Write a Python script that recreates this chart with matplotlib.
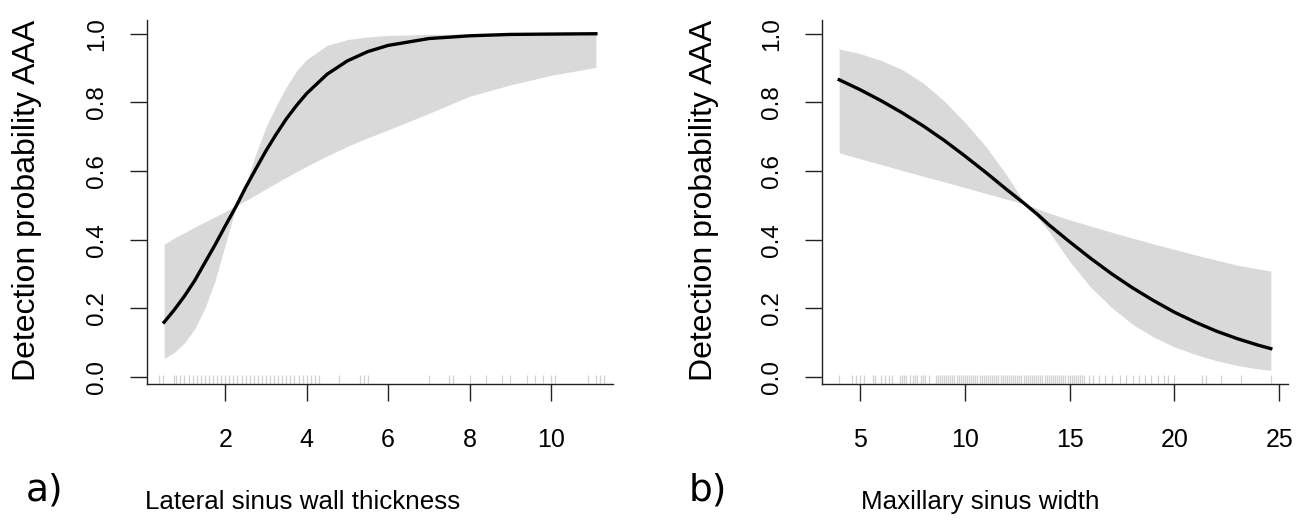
import matplotlib.pyplot as plt

plt.rcParams['font.family'] = ['Liberation Sans', 'DejaVu Sans']

# panel a: lateral sinus wall thickness
a_x = [0.5, 0.75, 1.0, 1.25, 1.5, 1.75, 2.0, 2.27, 2.5, 2.75, 3.0, 3.25, 3.5, 3.75, 4.0,
       4.5, 5.0, 5.5, 6.0, 7.0, 8.0, 9.0, 10.0, 11.1]
a_fit = [0.160, 0.196, 0.236, 0.281, 0.333, 0.385, 0.440, 0.498, 0.552, 0.606, 0.659, 0.707,
         0.752, 0.791, 0.826, 0.882, 0.921, 0.948, 0.966, 0.986, 0.994, 0.998, 0.999, 1.000]
a_up = [0.387, 0.405, 0.421, 0.437, 0.452, 0.467, 0.482, 0.500, 0.560, 0.650, 0.728, 0.790,
        0.845, 0.892, 0.925, 0.966, 0.983, 0.991, 0.995, 0.998, 0.999, 1.0, 1.0, 1.0]
a_lo = [0.054, 0.072, 0.100, 0.140, 0.200, 0.280, 0.385, 0.498, 0.514, 0.531, 0.548, 0.565,
        0.582, 0.598, 0.614, 0.644, 0.672, 0.697, 0.720, 0.768, 0.818, 0.851, 0.879, 0.902]
a_rug = [0.37, 0.47, 0.74, 0.8, 0.9, 1.0, 1.1, 1.2, 1.3, 1.4, 1.5, 1.6, 1.7, 1.8, 1.9,
         2.0, 2.1, 2.2, 2.3, 2.4, 2.5, 2.6, 2.7, 2.8, 2.9, 3.0, 3.1, 3.2, 3.3, 3.4, 3.5,
         3.6, 3.7, 3.8, 3.9, 4.0, 4.1, 4.2, 4.3, 4.8, 5.3, 5.4, 5.5, 7.0, 7.5, 7.6, 8.0,
         8.4, 8.8, 9.0, 9.4, 9.6, 9.8, 10.0, 10.1, 10.9, 11.1, 11.2, 11.3]

# panel b: maxillary sinus width
b_x = [4, 5, 6, 7, 8, 9, 10, 11, 12, 12.89, 13.5, 14, 15, 16, 17, 18, 19, 20, 21, 22, 23, 24, 24.6]
b_fit = [0.866, 0.837, 0.805, 0.770, 0.732, 0.690, 0.644, 0.596, 0.546, 0.503, 0.472, 0.444,
         0.394, 0.346, 0.301, 0.260, 0.223, 0.189, 0.160, 0.134, 0.112, 0.093, 0.083]
b_up = [0.956, 0.942, 0.922, 0.896, 0.857, 0.805, 0.742, 0.672, 0.588, 0.503, 0.490, 0.478,
        0.458, 0.440, 0.422, 0.405, 0.388, 0.372, 0.356, 0.341, 0.326, 0.315, 0.309]
b_lo = [0.653, 0.636, 0.619, 0.602, 0.585, 0.569, 0.552, 0.535, 0.518, 0.503, 0.462, 0.425,
        0.337, 0.262, 0.203, 0.154, 0.117, 0.088, 0.066, 0.048, 0.034, 0.024, 0.020]
b_rug = [4.0, 4.6, 4.8, 5.0, 5.2, 5.6, 5.7, 6.0, 6.2, 6.4, 6.5, 6.9, 7.0, 7.1, 7.2, 7.4, 7.5,
         7.6, 7.7, 7.9, 8.0, 8.1, 8.3, 8.6, 8.7, 8.8, 8.9, 9.0, 9.1, 9.2, 9.3, 9.4, 9.5, 9.6,
         9.7, 9.8, 9.9, 10.0, 10.1, 10.2, 10.3, 10.4, 10.5, 10.6, 10.7, 10.8, 10.9, 11.0, 11.1,
         11.2, 11.3, 11.4, 11.5, 11.6, 11.7, 11.8, 11.9, 12.0, 12.1, 12.2, 12.3, 12.4, 12.5,
         12.6, 12.7, 12.8, 12.9, 13.0, 13.1, 13.2, 13.3, 13.4, 13.5, 13.6, 13.7, 13.8, 13.9,
         14.0, 14.1, 14.2, 14.3, 14.4, 14.5, 14.6, 14.7, 14.8, 14.9, 15.0, 15.1, 15.2, 15.3,
         15.4, 15.5, 15.6, 15.7, 15.9, 16.1, 16.4, 16.7, 17.0, 17.4, 17.7, 18.0, 18.3, 18.6,
         18.9, 19.2, 19.5, 19.7, 20.0, 21.3, 21.5, 22.2, 23.2, 24.6]

band = '#d9d9d9'
rug_col = '#d0d0d0'

fig = plt.figure(figsize=(13.09, 5.2), dpi=100)
ax1 = fig.add_axes([147 / 1309, 1 - 384 / 520, 466 / 1309, 364 / 520])
ax2 = fig.add_axes([822 / 1309, 1 - 384 / 520, 466 / 1309, 364 / 520])

panels = [
    (ax1, a_x, a_fit, a_up, a_lo, a_rug, (0.08, 11.52), [2, 4, 6, 8, 10]),
    (ax2, b_x, b_fit, b_up, b_lo, b_rug, (3.18, 25.42), [5, 10, 15, 20, 25]),
]
for ax, x, fit, up, lo, rug, xlim, xt in panels:
    ax.fill_between(x, lo, up, color=band, lw=0)
    ax.plot(x, fit, color='black', lw=2.4)
    ax.vlines(rug, 0.003, 0.026, color=rug_col, lw=0.9, transform=ax.get_xaxis_transform())
    ax.set_xlim(*xlim)
    ax.set_ylim(-0.02, 1.04)
    ax.set_xticks(xt)
    ax.set_yticks([0.0, 0.2, 0.4, 0.6, 0.8, 1.0])
    ax.set_yticklabels(['0.0', '0.2', '0.4', '0.6', '0.8', '1.0'])
    for s in ['top', 'right']:
        ax.spines[s].set_visible(False)
    for s in ['left', 'bottom']:
        ax.spines[s].set_linewidth(1.0)
        ax.spines[s].set_color('#222222')
    ax.tick_params(length=12, width=1.0, color='#222222')
    ax.tick_params(axis='x', labelsize=18, pad=20)
    ax.tick_params(axis='y', labelrotation=90, labelsize=17.5, pad=16)
    for lab in ax.get_yticklabels():
        lab.set_va('center')

fig.text(27 / 1309, 1 - 200 / 520, 'Detection probability AAA', rotation=90,
         ha='center', va='center', fontsize=23)
fig.text(704 / 1309, 1 - 200 / 520, 'Detection probability AAA', rotation=90,
         ha='center', va='center', fontsize=23)
fig.text(303 / 1309, 1 - 502 / 520, 'Lateral sinus wall thickness',
         ha='center', va='center', fontsize=18.7)
fig.text(980 / 1309, 1 - 502 / 520, 'Maxillary sinus width',
         ha='center', va='center', fontsize=18.7)
fig.text(45 / 1309, 1 - 490 / 520, 'a)', ha='center', va='center', fontsize=27,
         family='DejaVu Sans')
fig.text(708 / 1309, 1 - 490 / 520, 'b)', ha='center', va='center', fontsize=27,
         family='DejaVu Sans')

plt.savefig('out.png', dpi=100)
